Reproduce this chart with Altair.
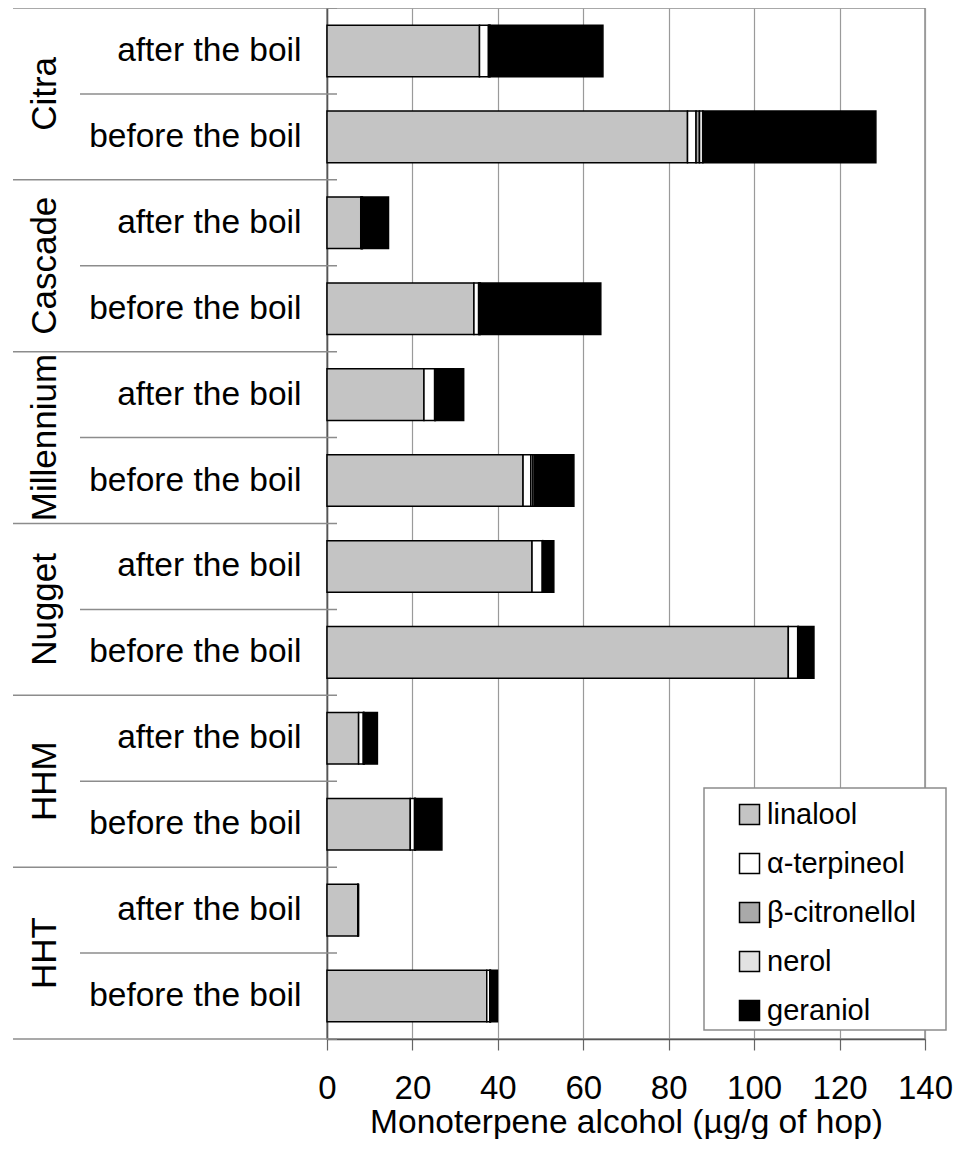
import altair as alt
import pandas as pd

varieties = ["Citra", "Cascade", "Millennium", "Nugget", "HHM", "HHT"]
stages = ["after the boil", "before the boil"]
compounds = ["linalool", "α-terpineol", "β-citronellol", "nerol", "geraniol"]

# values in row order: Citra after, Citra before, Cascade after, ...
linalool = [35.7, 84.4, 7.9, 34.4, 22.7, 45.9, 48.0, 108.0, 7.4, 19.5, 7.2, 37.4]
terpineol = [2.1, 2.0, 0.2, 1.1, 2.5, 1.8, 2.4, 2.2, 1.1, 1.0, 0.1, 0.7]
citronellol = [0.2, 0.8, 0.1, 0.2, 0.1, 0.5, 0.1, 0.1, 0.1, 0.1, 0.0, 0.1]
nerol = [0.2, 0.8, 0.1, 0.2, 0.1, 0.4, 0.1, 0.1, 0.1, 0.1, 0.0, 0.1]
geraniol = [26.4, 40.5, 6.1, 28.2, 6.6, 9.2, 2.5, 3.6, 3.1, 6.2, 0.1, 1.6]

colors = ["#c4c4c4", "#ffffff", "#a9a9a9", "#e2e2e2", "#000000"]

rows = [f"{v}|{s}" for v in varieties for s in stages]
series = [linalool, terpineol, citronellol, nerol, geraniol]

recs = []
for i, r in enumerate(rows):
    for k, c in enumerate(compounds):
        recs.append({"row": r, "compound": c, "value": series[k][i], "idx": k})
df = pd.DataFrame(recs)

after_rows = pd.DataFrame({"row": [r for r in rows if r.endswith("after the boil")]})
before_rows = pd.DataFrame({
    "row": [r for r in rows if r.endswith("before the boil")],
    "variety": varieties,
})
last_row = pd.DataFrame({"row": [rows[-1]]})

FONT = "Liberation Sans"
yscale = alt.Scale(domain=rows, paddingInner=0, paddingOuter=0)
yaxis = alt.Axis(
    title=None,
    ticks=False,
    labelExpr="split(datum.value, '|')[1]",
    labelFontSize=33.5,
    labelColor="black",
    labelPadding=26,
    labelLimit=400,
    labelOverlap=False,
    domainColor="#555",
    domainWidth=1.5,
    grid=False,
)

legend_box = alt.Chart(pd.DataFrame({"k": [0]})).mark_rect(
    fill="white", stroke="#8c8c8c", strokeWidth=1.5
).encode(
    x=alt.value(377), x2=alt.value(619), y=alt.value(780), y2=alt.value(1022)
)

bars = alt.Chart(df).mark_bar(
    stroke="black", strokeWidth=1.5, height={"band": 0.6}
).encode(
    x=alt.X(
        "value:Q",
        stack="zero",
        scale=alt.Scale(domain=[0, 140], nice=False),
        axis=alt.Axis(
            values=[0, 20, 40, 60, 80, 100, 120, 140],
            grid=True,
            gridColor="#9a9a9a",
            gridWidth=1.2,
            tickColor="#666",
            tickSize=11,
            tickWidth=1.2,
            labelFontSize=33,
            labelColor="black",
            labelPadding=22,
            labelFlush=False,
            title="Monoterpene alcohol (µg/g of hop)",
            titleFontSize=33.5,
            titleFontWeight="normal",
            titleColor="black",
            titlePadding=1,
            domainColor="#555",
            domainWidth=1.5,
        ),
    ),
    y=alt.Y("row:N", scale=yscale, sort=rows, axis=yaxis),
    color=alt.Color(
        "compound:N",
        scale=alt.Scale(domain=compounds, range=colors),
        legend=alt.Legend(
            title=None,
            orient="none",
            legendX=408,
            legendY=792,
            symbolType="square",
            symbolSize=400,
            symbolStrokeColor="black",
            symbolStrokeWidth=1.5,
            symbolOffset=0,
            labelFontSize=29,
            labelColor="black",
            labelOffset=3,
            rowPadding=19,
            padding=0,
            labelLimit=400,
        ),
    ),
    order=alt.Order("idx:Q"),
)

group_sep = alt.Chart(after_rows).mark_rule(color="#8c8c8c", strokeWidth=1.5).encode(
    y=alt.Y("row:N", bandPosition=0, scale=yscale, sort=rows, axis=yaxis),
    x=alt.value(-314),
    x2=alt.value(10),
)
bottom_sep = alt.Chart(last_row).mark_rule(color="#8c8c8c", strokeWidth=1.5).encode(
    y=alt.Y("row:N", bandPosition=1, scale=yscale, sort=rows, axis=yaxis),
    x=alt.value(-314),
    x2=alt.value(10),
)
sub_sep = alt.Chart(before_rows).mark_rule(color="#8c8c8c", strokeWidth=1.5).encode(
    y=alt.Y("row:N", bandPosition=0, scale=yscale, sort=rows, axis=yaxis),
    x=alt.value(-247),
    x2=alt.value(10),
)
group_labels = alt.Chart(before_rows).mark_text(
    angle=270, fontSize=35, align="center", baseline="middle", color="black", font=FONT
).encode(
    y=alt.Y("row:N", bandPosition=0, scale=yscale, sort=rows, axis=yaxis),
    x=alt.value(-282),
    text="variety:N",
)

chart = alt.layer(bars, legend_box, group_sep, bottom_sep, sub_sep, group_labels).properties(
    width=598,
    height=1031,
    autosize=alt.AutoSizeParams(type="none"),
    padding={"left": 319, "top": 0, "right": 28, "bottom": 100},
).configure(
    font=FONT,
).configure_view(
    stroke="#8c8c8c",
    strokeWidth=1.5,
)

chart.save("out.html", embed_options={"renderer": "svg", "actions": False})
